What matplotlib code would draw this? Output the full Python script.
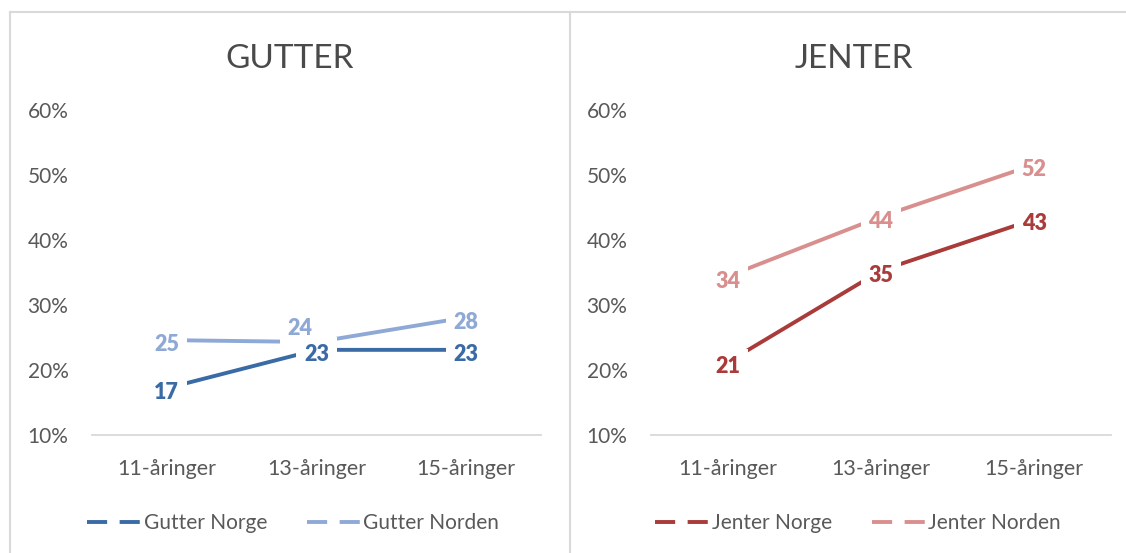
import matplotlib
matplotlib.use('Agg')
import matplotlib.pyplot as plt
from matplotlib.lines import Line2D
from matplotlib.ticker import FuncFormatter

# ---------------- data ----------------
categories = ['11-åringer', '13-åringer', '15-åringer']
gutter_norge = [17.2, 23.1, 23.1]
gutter_norden = [24.6, 24.3, 28.1]
jenter_norge = [21.2, 35.3, 43.2]
jenter_norden = [34.4, 43.6, 51.6]
yticks = [10, 20, 30, 40, 50, 60]
titles = ['GUTTER', 'JENTER']
names_gutter = ['Gutter Norge', 'Gutter Norden']
names_jenter = ['Jenter Norge', 'Jenter Norden']

# ---------------- style ----------------
plt.rcParams['font.family'] = ['Lato', 'DejaVu Sans']
plt.rcParams['lines.scale_dashes'] = False
TEXT = '#595959'
TITLE = '#4A4A4A'
GRID = '#D9D9D9'
c_gn, c_gd = '#3B6BA5', '#8FA9D6'
c_jn, c_jd = '#A93B3B', '#D88F8E'

W, H = 1126, 553
fig = plt.figure(figsize=(W / 100, H / 100), dpi=100)


def fx(px):
    return px / W


def fy(py):
    return 1 - py / H


panels = [
    dict(rect=(92, 110, 541, 435), span=(10, 570), title=titles[0],
         series=[(gutter_norge, c_gn, names_gutter[0]),
                 (gutter_norden, c_gd, names_gutter[1])],
         legend_center=293,
         label_offsets={(1, 1): (-12, 11.5)}),
    dict(rect=(651, 110, 1111, 435), span=(570, 1138), title=titles[1],
         series=[(jenter_norge, c_jn, names_jenter[0]),
                 (jenter_norden, c_jd, names_jenter[1])],
         legend_center=858,
         label_offsets={}),
]

x = list(range(len(categories)))

for p in panels:
    l, t, r, b = p['rect']
    ax = fig.add_axes([fx(l), fy(b), fx(r) - fx(l), fy(t) - fy(b)])
    ax.set_xlim(-0.5, len(categories) - 0.5)
    ax.set_ylim(yticks[0], yticks[-1])
    for side in ['top', 'right', 'left']:
        ax.spines[side].set_visible(False)
    ax.spines['bottom'].set_color(GRID)
    ax.spines['bottom'].set_linewidth(1.3)
    ax.set_yticks(yticks)
    ax.yaxis.set_major_formatter(FuncFormatter(lambda v, pos: f'{v:.0f}%'))
    ax.set_xticks(x)
    ax.set_xticklabels(categories)
    ax.tick_params(axis='y', length=0, pad=17, labelsize=15, labelcolor=TEXT)
    ax.tick_params(axis='x', length=0, pad=17, labelsize=15.5, labelcolor=TEXT)
    ax.patch.set_alpha(0)

    handles = []
    for si, (vals, col, name) in enumerate(p['series']):
        ax.plot(x, vals, color=col, lw=2.8, solid_capstyle='butt', zorder=2,
                clip_on=False)
        for i, v in enumerate(vals):
            off = p['label_offsets'].get((si, i), (0, -2))
            common = dict(xytext=off, textcoords='offset points', ha='center',
                          va='center_baseline', fontsize=15.5, fontweight='heavy')
            # white label background (cuts the lines like the original)
            ax.annotate(f'{v:.0f}', (i, v), color='none', zorder=4,
                        bbox=dict(boxstyle='square,pad=0.35', fc='white', ec='none'),
                        **common)
            # label text on top of every background
            ax.annotate(f'{v:.0f}', (i, v), color=col, zorder=5, **common)
        handles.append(Line2D([], [], color=col, lw=2.8, linestyle=(0, (14.5, 9)),
                              solid_capstyle='butt', dash_capstyle='butt'))

    fig.legend(handles, [s[2] for s in p['series']], loc='center',
               bbox_to_anchor=(fx(p['legend_center']), fy(523)), ncol=2,
               frameon=False, fontsize=15, labelcolor=TEXT, handlelength=2.65,
               handletextpad=0.08, columnspacing=1.9, borderpad=0)

    s0, s1 = p['span']
    fig.text(fx((s0 + s1) / 2), fy(68), p['title'], ha='center', va='baseline',
             fontsize=24, color=TITLE)

# panel borders
fig.add_artist(Line2D([fx(10), 1], [fy(12), fy(12)], color=GRID, lw=1.5,
                      transform=fig.transFigure))
for xp in (10, 570):
    fig.add_artist(Line2D([fx(xp), fx(xp)], [fy(12), 0], color=GRID, lw=1.5,
                          transform=fig.transFigure))

fig.savefig('out.png', dpi=100, facecolor='white')
